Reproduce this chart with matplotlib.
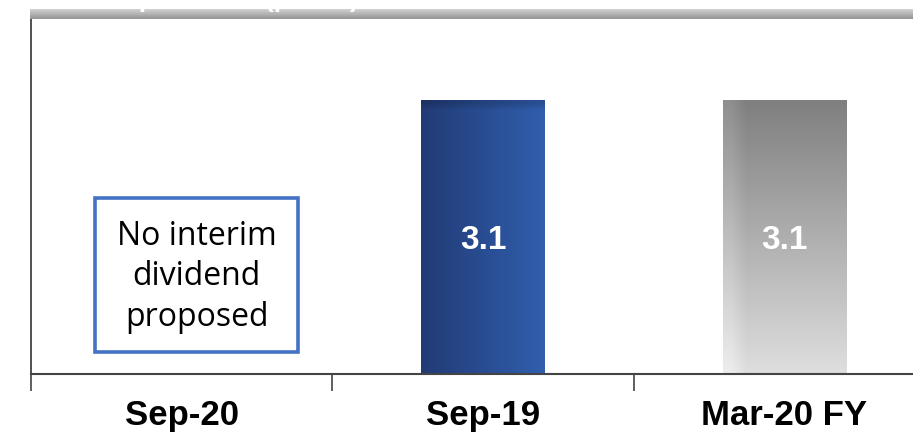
import numpy as np
import matplotlib
matplotlib.use("Agg")
import matplotlib.pyplot as plt
from matplotlib.patches import Rectangle

# dividend per share (pence); Sep-20 has no interim dividend
periods = ["Sep-20", "Sep-19", "Mar-20 FY"]
dividends = [0.0, 3.1, 3.1]
bar_styles = [None, "blue", "grey"]
note_text = "No interim\ndividend\nproposed"
title = "Dividend per share (pence)"

W, H = 913, 435
fig = plt.figure(figsize=(W / 100, H / 100), dpi=100)

# plot area runs off the right-hand edge
ax = fig.add_axes([31 / W, 1 - 375 / H, (935 - 31) / W, 355 / H])
ax.set_xlim(-0.5, len(periods) - 0.5)
ax.set_ylim(0, 4.02)

x = np.arange(len(periods))
bars = ax.bar(x, dividends, width=0.41, color="none", edgecolor="none")


def fill_gradient(bar, kind):
    x0, y0 = bar.get_x(), bar.get_y()
    x1, y1 = x0 + bar.get_width(), y0 + bar.get_height()
    if kind == "blue":
        # dark navy on the left easing to brighter blue on the right
        t = np.linspace(0, 1, 64)
        left = np.array([0.13, 0.23, 0.46])
        right = np.array([0.19, 0.37, 0.68])
        img = (left[None, :] * (1 - t[:, None]) + right[None, :] * t[:, None])[None, :, :]
        img = np.repeat(img, 40, axis=0)
        img[0] = img[0] * 0.85
    else:
        # mid grey at the top fading to pale grey at the base
        t = np.linspace(0, 1, 64)[:, None]
        top, base = 0.50, 0.87
        v = top * (1 - t) + base * t
        img = np.repeat(v[:, :, None], 3, axis=2)
        img = np.repeat(img, 8, axis=1)
        img[:, 0] = np.minimum(img[:, 0] + 0.06, 1)
    ax.imshow(img, extent=[x0, x1, y0, y1], aspect="auto",
              interpolation="bilinear", zorder=2, origin="upper")


for bar, kind, val in zip(bars, bar_styles, dividends):
    if kind is None:
        continue
    fill_gradient(bar, kind)
    ax.text(bar.get_x() + bar.get_width() / 2, val * 0.49, f"{val:.1f}",
            ha="center", va="center", color="white", fontsize=24,
            fontweight="bold", family="Liberation Sans", zorder=3)

# note box for the period without a dividend
ax.add_patch(Rectangle((-0.288, 0.25), 0.675, 1.74, facecolor="white",
                       edgecolor="#4472c4", linewidth=2.6, zorder=3))
ax.text(0.05, 1.11, note_text, ha="center", va="center", fontsize=23,
        linespacing=1.3, family="Open Sans", color="black", zorder=4)

# category separators as ticks, labels centred between them
ax.set_xticks(np.arange(len(periods) + 1) - 0.5)
ax.set_xticklabels([])
ax.tick_params(axis="x", which="major", length=12, width=1.2, color="#444444",
               direction="out")
ax.set_xticks(x, minor=True)
ax.set_xticklabels(periods, minor=True, fontsize=25, fontweight="bold",
                   family="Liberation Sans")
ax.tick_params(axis="x", which="minor", length=0, pad=17)
ax.set_yticks([])

for side in ["top", "right"]:
    ax.spines[side].set_visible(False)
ax.spines["left"].set_color("#333333")
ax.spines["left"].set_linewidth(1.2)
ax.spines["bottom"].set_color("#444444")
ax.spines["bottom"].set_linewidth(1.5)

# grey header strip along the top
band = fig.add_axes([30 / W, 1 - 20 / H, 1 - 30 / W, 10 / H])
shade = np.linspace(0.82, 0.58, 16)[:, None]
band.imshow(np.repeat(shade, 4, axis=1), cmap="gray", vmin=0, vmax=1,
            aspect="auto", extent=[0, 1, 0, 1], interpolation="bilinear")
band.axis("off")
fig.text(20 / W, 1 - 7.5 / H, title, ha="left", va="baseline", color="white",
         fontsize=19, fontweight="bold", family="Liberation Sans", zorder=5)

fig.savefig("out.png", dpi=100, facecolor="white")
